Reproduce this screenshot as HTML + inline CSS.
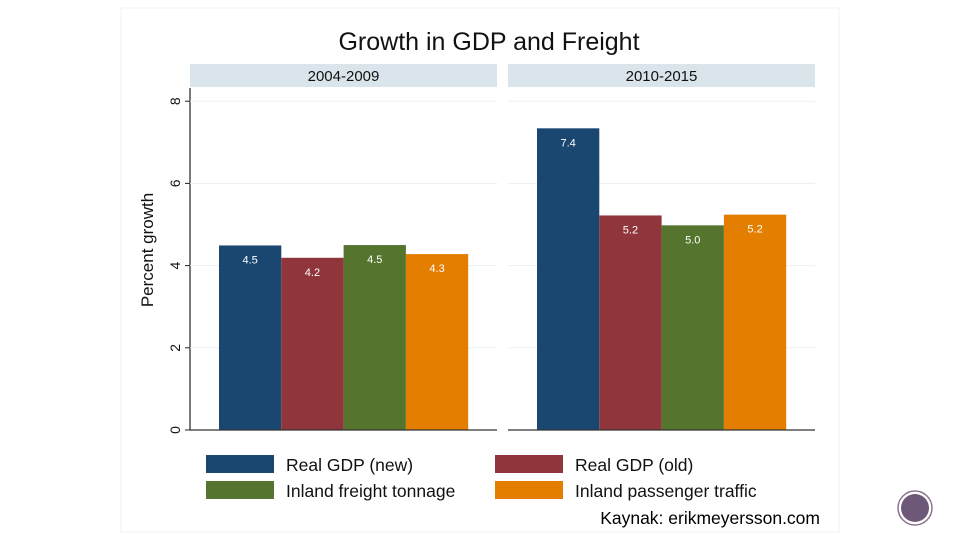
<!DOCTYPE html>
<html><head><meta charset="utf-8"><style>
body{margin:0;background:#fff;width:960px;height:540px;overflow:hidden;font-family:"Liberation Sans",sans-serif}
</style></head><body>
<svg width="960" height="540" xmlns="http://www.w3.org/2000/svg" font-family="Liberation Sans, sans-serif">
<rect x="121" y="8" width="718" height="524" fill="#fff" stroke="#f2f2f2"/>
<text x="489" y="50" font-size="25" text-anchor="middle" fill="#111">Growth in GDP and Freight</text>
<g id="panels"></g>
<text transform="translate(153,250) rotate(-90)" font-size="17" text-anchor="middle" fill="#111">Percent growth</text>
<g id="legend"></g>
<text x="820" y="524" font-size="17.5" text-anchor="end" fill="#000">Kaynak: erikmeyersson.com</text>
<circle cx="915" cy="508" r="17" fill="#fff" stroke="#8a7590" stroke-width="1.5"/>
<circle cx="915" cy="508" r="14" fill="#6e5878"/>
</svg>
<script>
const panels=["2004-2009","2010-2015"];
const series=["Real GDP (new)","Real GDP (old)","Inland freight tonnage","Inland passenger traffic"];
const colors=["#1a476f","#90353b","#55752f","#e37e00"];
const values=[[4.49,4.19,4.5,4.28],[7.34,5.22,4.98,5.24]];
const labels=[["4.5","4.2","4.5","4.3"],["7.4","5.2","5.0","5.2"]];
const yTicks=[0,2,4,6,8];
const NS="http://www.w3.org/2000/svg";
const y=v=>430-v*41.1;
const g=document.getElementById('panels');
function mk(t,a,p){const e=document.createElementNS(NS,t);for(const k in a)e.setAttribute(k,a[k]);(p||g).appendChild(e);return e;}
const px=[190,508],pw=307;
let ax=mk('line',{x1:190,x2:190,y1:88,y2:430,stroke:'#222','stroke-width':1.2});


yTicks.forEach(t=>{
 let tk=mk('line',{x1:185,x2:190,y1:y(t),y2:y(t),stroke:'#222'});
 
 
 let tl=mk('text',{transform:`translate(180,${y(t)}) rotate(-90)`,'font-size':14,'text-anchor':'middle',fill:'#111'});
 tl.textContent=t;
 
 
});
panels.forEach((p,i)=>{
 const x0=px[i];
 let h=mk('rect',{x:x0,y:64,width:pw,height:23,fill:'#d9e5ea'});
 
 
 let ht=mk('text',{x:x0+pw/2,y:81,'font-size':15,'text-anchor':'middle',fill:'#111'});
 ht.textContent=p;
 
 
 yTicks.forEach(t=>{if(t>0){let gl=mk('line',{x1:x0,x2:x0+pw,y1:y(t),y2:y(t),stroke:'#eaf0f2','stroke-width':1});
  
  }});
 const bw=62.3,bx0=x0+29;
 values[i].forEach((v,j)=>{
  let r=mk('rect',{x:bx0+j*bw,y:y(v),width:bw,height:430-y(v),fill:colors[j]});
  
  
  let lt=mk('text',{x:bx0+j*bw+bw/2,y:y(v)+18,'font-size':11,'text-anchor':'middle',fill:'#fff'});
  lt.textContent=labels[i][j];
  
  
 });
 let bl=mk('line',{x1:x0,x2:x0+pw,y1:430,y2:430,stroke:'#333','stroke-width':1.2});
 
 
});
const lg=document.getElementById('legend');
series.forEach((s,j)=>{
 const lx=j%2?495:206, ly=j<2?455:481;
 let r=mk('rect',{x:lx,y:ly,width:68,height:18,fill:colors[j]},lg);
 
 
 let t=mk('text',{x:lx+80,y:ly+16,'font-size':17.5,fill:'#111'},lg);
 t.textContent=s;
 
 
});
</script>
</body></html>
